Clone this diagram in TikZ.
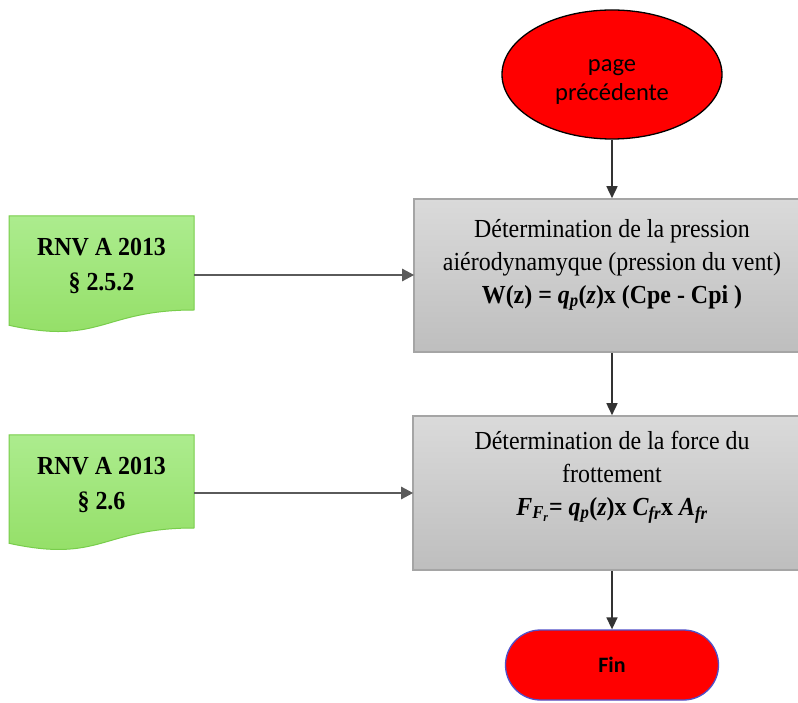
\documentclass[tikz,border=0pt]{standalone}
\usepackage{fontspec}
\setmainfont{Liberation Serif}[FakeStretch=0.92]
\newfontfamily\calibri{Carlito}
\usetikzlibrary{shapes.geometric,arrows.meta}
\definecolor{boxborder}{RGB}{165,165,165}
\definecolor{boxtop}{RGB}{218,218,218}
\definecolor{boxbot}{RGB}{190,190,190}
\definecolor{doctop}{RGB}{172,236,142}
\definecolor{docbot}{RGB}{146,222,100}
\definecolor{docborder}{RGB}{120,205,75}
\definecolor{finborder}{RGB}{80,80,200}
\definecolor{linkgray}{RGB}{90,90,90}
\begin{document}
\begin{tikzpicture}[x=1pt,y=1pt,
  procbox/.style={rectangle, draw=boxborder, line width=1.6pt, top color=boxtop, bottom color=boxbot, inner sep=0pt},
  proctext/.style={align=center, font=\fontsize{26}{33}\selectfont, inner sep=0pt},
  doctext/.style={align=center, font=\fontsize{26}{35}\selectfont\bfseries, inner sep=0pt},
  docshape/.style={draw=docborder, line width=1pt, top color=doctop, bottom color=docbot},
  flow/.style={draw=black!80, line width=1.6pt, -{Triangle[length=12pt,width=11pt]}},
  link/.style={draw=linkgray, line width=2.4pt, -{Triangle[length=12pt,width=12pt]}, shorten >=-1pt},
  termshape/.style={fill=red, line width=1.3pt, inner sep=0pt}
]
\clip (0,0) rectangle (798,702);
\fill[white] (0,0) rectangle (798,702);

% start ellipse
\node[ellipse, termshape, draw=black, minimum width=220pt, minimum height=129pt] (start) at (612,627.5) {};
\node[align=center, inner sep=0pt, font=\calibri\fontsize{24.5}{29}\selectfont] (starttext) at (612,620) {page\\précédente};

% process boxes
\node[procbox, minimum width=386pt, minimum height=153pt] (box1) at (607,426.5) {};
\node[proctext] (t1) at (612,437) {Détermination de la pression\\
aiérodynamyque (pression du vent)\\
\textbf{W(z) = {\itshape q\textsubscript{p}}(\textit{z})x (Cpe - Cpi )}};

\node[procbox, minimum width=387pt, minimum height=154pt] (box2) at (606.5,209) {};
\node[proctext] (t2) at (612,225) {Détermination de la force du\\
frottement\\
{\bfseries\itshape F\textsubscript{F\textsubscript{r}}\upshape= \itshape q\textsubscript{p}\upshape(\itshape z\upshape)x \itshape C\textsubscript{fr}\upshape x \itshape A\textsubscript{fr}}};

% end terminal
\node[rectangle, rounded corners=35pt, termshape, draw=finborder, minimum width=213pt, minimum height=70pt,
      font=\calibri\bfseries\fontsize{22}{26}\selectfont] (fin) at (612,37) {Fin};

% document shapes
\path[docshape] (9,486) -- (194,486) -- (194,392) .. controls (101.5,392) and (101.5,356.5) .. (9,376.7) -- cycle;
\node[doctext] (doc1) at (101.5,436) {RNV A 2013\\§ 2.5.2};
\coordinate (d1r) at (194,427);

\path[docshape] (9,267) -- (194,267) -- (194,174) .. controls (101.5,174) and (101.5,138.6) .. (9,158.7) -- cycle;
\node[doctext] (doc2) at (101.5,217) {RNV A 2013\\§ 2.6};
\coordinate (d2r) at (194,209);

% connectors
\draw[flow] (start.south) -- (start.south |- box1.north);
\draw[flow] (box1.south -| start) -- (box2.north -| start);
\draw[flow] (box2.south -| start) -- (fin.north);
\draw[link] (d1r) -- (box1.west |- d1r);
\draw[link] (d2r) -- (box2.west |- d2r);
\end{tikzpicture}
\end{document}
